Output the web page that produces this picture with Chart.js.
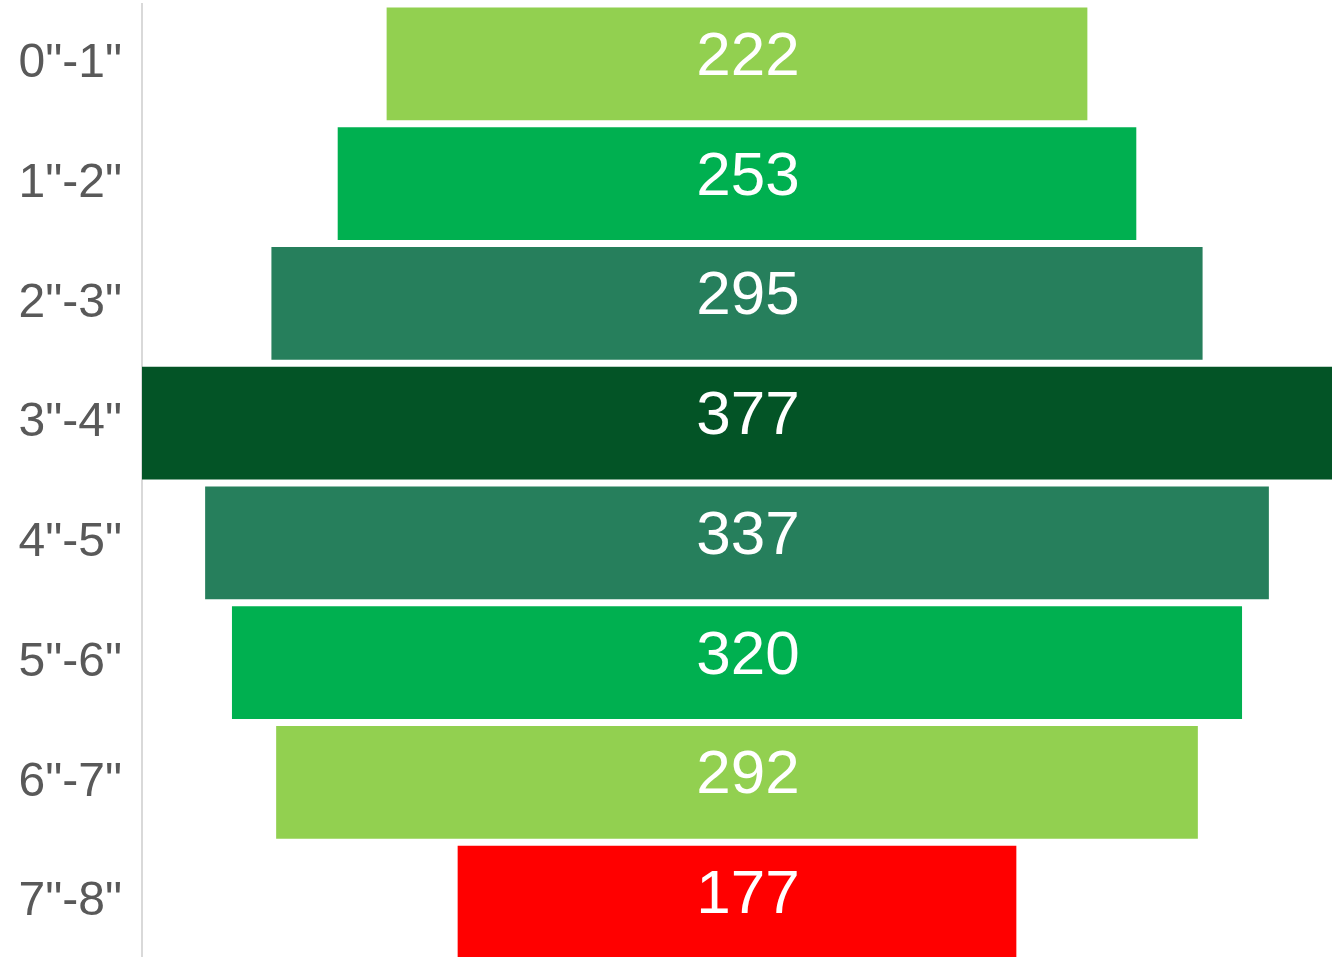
<!DOCTYPE html>
<html>
<head>
<meta charset="utf-8">
<script src="https://cdn.jsdelivr.net/npm/chart.js@4/dist/chart.umd.min.js"></script>
<style>
  html, body { margin: 0; padding: 0; background: #fff; overflow: hidden; }
  #wrap { width: 1342px; height: 962px; }
</style>
</head>
<body>
<div id="wrap"><canvas id="funnelChart"></canvas></div>
<script>
const categories = ['0"-1"', '1"-2"', '2"-3"', '3"-4"', '4"-5"', '5"-6"', '6"-7"', '7"-8"'];
const counts = [222, 253, 295, 377, 337, 320, 292, 177];
const barColors = ['#92D050', '#00B050', '#267F5C', '#035426', '#267F5C', '#00B050', '#92D050', '#FF0000'];

// bars are centered, so each one spans -v/2 .. v/2
const maxCount = Math.max(...counts);

const centerLabels = {
    id: 'centerLabels',
    afterDatasetsDraw(chart) {
        const ctx = chart.ctx;
        const meta = chart.getDatasetMeta(0);
        ctx.save();
        ctx.fillStyle = '#ffffff';
        ctx.font = '62px "Liberation Sans", Arial, sans-serif';
        ctx.textAlign = 'center';
        ctx.textBaseline = 'middle';
        meta.data.forEach((bar, i) => {
            const cx = (bar.x + bar.base) / 2 + 11;
            ctx.fillText(String(counts[i]), cx, bar.y - 6);
        });
        ctx.restore();
    }
};

const ctx = document.getElementById('funnelChart').getContext('2d');
new Chart(ctx, {
    type: 'bar',
    data: {
        labels: categories,
        datasets: [{
            data: counts.map(v => [-v / 2, v / 2]),
            backgroundColor: barColors,
            borderWidth: 0,
            barPercentage: 0.94,
            categoryPercentage: 1
        }]
    },
    options: {
        indexAxis: 'y',
        responsive: true,
        maintainAspectRatio: false,
        animation: false,
        layout: { padding: { top: 4, right: 10, bottom: 0, left: 0 } },
        plugins: {
            legend: { display: false },
            tooltip: { enabled: false }
        },
        scales: {
            x: {
                display: false,
                min: -maxCount / 2,
                max: maxCount / 2
            },
            y: {
                grid: { display: false, drawTicks: false },
                border: { display: true, color: '#d9d9d9', width: 2 },
                ticks: {
                    color: '#595959',
                    padding: 20,
                    font: { family: '"Liberation Sans", Arial, sans-serif', size: 48 }
                },
                afterFit(scale) {
                    scale.width = 142;
                    scale.paddingTop = 0;
                    scale.paddingBottom = 0;
                }
            }
        }
    },
    plugins: [centerLabels]
});
</script>
</body>
</html>
